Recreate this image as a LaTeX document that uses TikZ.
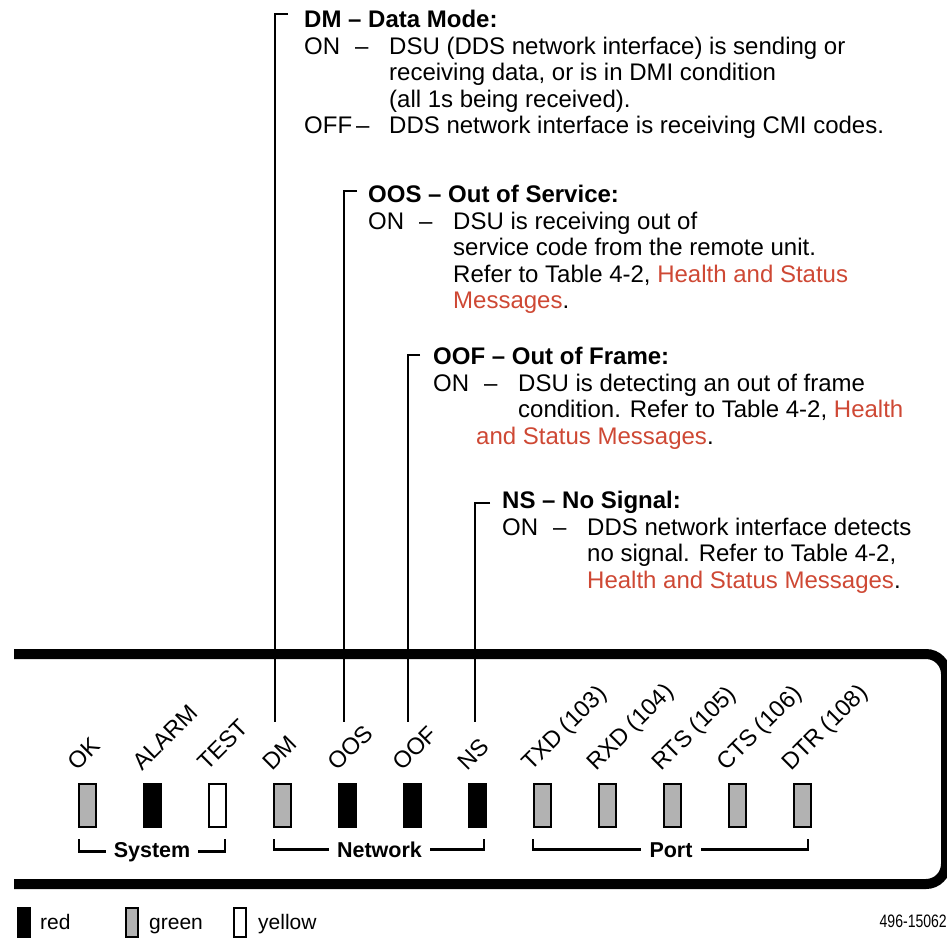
\documentclass[tikz,border=0pt]{standalone}
\usepackage{fontspec}
\setmainfont{Liberation Sans}
\newfontfamily\narrowfont[FakeStretch=0.78]{Liberation Sans}
\usetikzlibrary{positioning}
\definecolor{linkred}{RGB}{206,72,52}
\definecolor{ledgray}{RGB}{178,178,178}
\newcommand{\statelbl}[2][51pt]{\makebox[85pt][l]{\makebox[#1][l]{#2}--}}
\newcommand{\indnt}{\hspace*{85pt}}
\tikzset{
  desc/.style={anchor=north west,inner sep=0pt,align=left,font=\fontsize{24}{26.6}\selectfont},
  lead/.style={line width=2.5pt},
  panel/.style={line width=10pt,rounded corners=20pt},
  led/.style={draw,line width=2pt,minimum width=17pt,minimum height=43pt,inner sep=0pt},
  ledlabel/.style={rotate=45,anchor=base west,inner sep=0pt,font=\fontsize{23.5}{26}\selectfont},
  group/.style={anchor=base,inner xsep=8pt,inner ysep=0pt,font=\bfseries\fontsize{21.5}{25}\selectfont},
  bracket/.style={line width=2.5pt},
  key/.style={anchor=base west,inner sep=0pt,font=\fontsize{21}{25}\selectfont}
}
\begin{document}
\begin{tikzpicture}[x=1pt,y=-1pt]
\useasboundingbox (0,0) rectangle (947,940);

% descriptions
\node[desc] (dmtext) at (304,10) {\textbf{DM -- Data Mode:}\\
  \statelbl{ON}DSU (DDS network interface) is sending or\\
  \indnt receiving data, or is in DMI condition\\
  \indnt (all 1s being received).\\
  \statelbl[52pt]{OFF}DDS network interface is receiving CMI codes.};
\node[desc] (oostext) at (368,185) {\textbf{OOS -- Out of Service:}\\
  \statelbl{ON}DSU is receiving out of\\
  \indnt service code from the remote unit.\\
  \indnt Refer to Table 4-2, \textcolor{linkred}{Health and Status}\\
  \indnt \textcolor{linkred}{Messages}.};
\node[desc] (ooftext) at (433,347) {\textbf{OOF -- Out of Frame:}\\
  \statelbl{ON}DSU is detecting an out of frame\\
  \indnt condition. Refer to Table 4-2, \textcolor{linkred}{Health}\\
  \hspace*{43pt}\textcolor{linkred}{and Status Messages}.};
\node[desc] (nstext) at (502,491) {\textbf{NS -- No Signal:}\\
  \statelbl{ON}DDS network interface detects\\
  \indnt no signal. Refer to Table 4-2,\\
  \indnt \textcolor{linkred}{Health and Status Messages}.};

% front panel
\draw[panel] (14,654) -- (946,654) -- (946,884) -- (14,884);

% leds
\node[led,fill=ledgray] (ok) at (87,805.5) {};
\node[led,fill=black] (alarm) at (152,805.5) {};
\node[led,fill=white] (test) at (217,805.5) {};
\node[led,fill=ledgray] (dm) at (282,805.5) {};
\node[led,fill=black] (oos) at (347,805.5) {};
\node[led,fill=black] (oof) at (412,805.5) {};
\node[led,fill=black] (ns) at (477,805.5) {};
\node[led,fill=ledgray] (txd) at (542,805.5) {};
\node[led,fill=ledgray] (rxd) at (607,805.5) {};
\node[led,fill=ledgray] (rts) at (672,805.5) {};
\node[led,fill=ledgray] (cts) at (737,805.5) {};
\node[led,fill=ledgray] (dtr) at (802,805.5) {};

% led labels
\node[ledlabel] (oklbl) at (77,772) {OK};
\node[ledlabel] (alarmlbl) at (142,772) {ALARM};
\node[ledlabel] (testlbl) at (207,772) {TEST};
\node[ledlabel] (dmlbl) at (272,772) {DM};
\node[ledlabel] (ooslbl) at (337,772) {OOS};
\node[ledlabel] (ooflbl) at (402,772) {OOF};
\node[ledlabel] (nslbl) at (467,772) {NS};
\node[ledlabel] (txdlbl) at (531,772) {TXD (103)};
\node[ledlabel] (rxdlbl) at (596,772) {RXD (104)};
\node[ledlabel] (rtslbl) at (661,772) {RTS (105)};
\node[ledlabel] (ctslbl) at (726,772) {CTS (106)};
\node[ledlabel] (dtrlbl) at (791,772) {DTR (108)};

% leads from the descriptions
\coordinate (dmtop) at (288,14);
\coordinate (dmfoot) at (275,722);
\coordinate (oostop) at (357,191);
\coordinate (oosfoot) at (344,722);
\coordinate (ooftop) at (420,355);
\coordinate (ooffoot) at (408,722);
\coordinate (nstop) at (490,503);
\coordinate (nsfoot) at (475,722);
\draw[lead] (dmtop) -| (dmfoot);
\draw[lead] (oostop) -| (oosfoot);
\draw[lead] (ooftop) -| (ooffoot);
\draw[lead] (nstop) -| (nsfoot);

% groups
\node[group] (system) at (152,857) {System};
\node[group] (network) at (379.5,857) {Network};
\node[group] (port) at (671,857) {Port};
\coordinate (sysl) at (79,839);
\coordinate (sysr) at (225,839);
\coordinate (netl) at (274,839);
\coordinate (netr) at (484,839);
\coordinate (portl) at (533,839);
\coordinate (portr) at (808,839);
\draw[bracket] (sysl) |- (system.west);
\draw[bracket] (sysr) |- (system.east);
\draw[bracket] (netl) |- (network.west);
\draw[bracket] (netr) |- (network.east);
\draw[bracket] (portl) |- (port.west);
\draw[bracket] (portr) |- (port.east);

% key
\node[led,fill=black,minimum width=12pt,minimum height=29pt] (redkey) at (24,922.5) {};
\node[led,fill=ledgray,minimum width=12pt,minimum height=29pt] (greenkey) at (131.5,922.5) {};
\node[led,fill=white,minimum width=12pt,minimum height=29pt] (yellowkey) at (240,922.5) {};
\node[key] (redtxt) at (40,929) {red};
\node[key] (greentxt) at (149,929) {green};
\node[key] (yellowtxt) at (258,929) {yellow};
\node[anchor=base east,inner sep=0pt,font=\narrowfont\fontsize{18}{20}\selectfont] (fignum) at (947,927) {496-15062};
\end{tikzpicture}
\end{document}
